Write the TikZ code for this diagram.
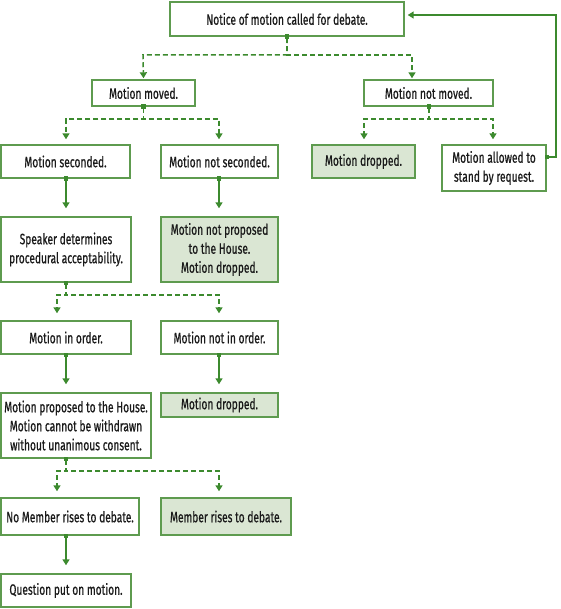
\documentclass[tikz,border=0pt]{standalone}
\usepackage{fontspec}
\setmainfont{Fira Sans}[FakeStretch=0.68,FakeBold=0.6]
\usetikzlibrary{arrows.meta,calc}
\definecolor{bord}{HTML}{5E9B4F}
\definecolor{lin}{HTML}{3C8A2E}
\definecolor{fil}{HTML}{DAE6D3}
\definecolor{txt}{HTML}{1A1A1A}
\tikzset{
  box/.style={draw=bord,line width=1.4pt,fill=white,text=txt,align=center,inner sep=0pt,
    font=\fontsize{15}{19}\selectfont},
  boxf/.style={box,fill=fil},
  conn/.style={draw=lin,line width=1.5pt,
    {Square[length=4.5pt,width=4.5pt]}-{Triangle[length=6pt,width=7pt]},
    shorten <=-2.2pt},
  fork/.style={conn,dash pattern=on 5pt off 3pt},
}
\begin{document}
\begin{tikzpicture}[x=1pt,y=-1pt]
\useasboundingbox (0,0) rectangle (560,609);
\node[box,minimum width=234,minimum height=34] (notice) at (287,19) {Notice of motion called for debate.};
\node[box,minimum width=103,minimum height=26] (moved) at (143.5,93) {Motion moved.};
\node[box,minimum width=129,minimum height=26] (notmoved) at (428.5,93) {Motion not moved.};
\node[box,minimum width=129,minimum height=33] (seconded) at (65.5,161.5) {Motion seconded.};
\node[box,minimum width=117,minimum height=33] (notseconded) at (219.5,161.5) {Motion not seconded.};
\node[boxf,minimum width=103,minimum height=33] (dropA) at (363.5,161.5) {Motion dropped.};
\node[box,minimum width=104,minimum height=46] (allowed) at (494,168) {Motion allowed to\\stand by request.};
\node[box,minimum width=130,minimum height=65] (speaker) at (66,249.5) {Speaker determines\\procedural acceptability.};
\node[boxf,minimum width=117,minimum height=65] (notproposed) at (219.5,249.5) {Motion not proposed\\to the House.\\Motion dropped.};
\node[box,minimum width=130,minimum height=33] (inorder) at (66,337.5) {Motion in order.};
\node[box,minimum width=117,minimum height=33] (notinorder) at (219.5,337.5) {Motion not in order.};
\node[box,minimum width=150,minimum height=65] (proposed) at (76,425.5) {Motion proposed to the House.\\Motion cannot be withdrawn\\without unanimous consent.};
\node[boxf,minimum width=117,minimum height=24] (dropB) at (219.5,405) {Motion dropped.};
\node[box,minimum width=138,minimum height=37] (nomember) at (70,516.5) {No Member rises to debate.};
\node[boxf,minimum width=130,minimum height=37] (member) at (226,516.5) {Member rises to debate.};
\node[box,minimum width=130,minimum height=33] (question) at (66,590.5) {Question put on motion.};
% forks
\draw[fork,shorten >=1pt] (notice.south) |- (143,55) -- (moved.north);
\draw[fork,shorten >=1pt] (notice.south) |- (412,55) -- ([xshift=-16.5pt]notmoved.north);
\draw[fork,shorten >=5pt] (moved.south) |- (66,119) -- (seconded.north -| 66,0);
\draw[fork,shorten >=5pt] (moved.south) |- (219,119) -- (notseconded.north -| 219,0);
\draw[fork,shorten >=5pt] (notmoved.south -| 429,0) |- (364,119) -- (dropA.north -| 364,0);
\draw[fork,shorten >=5pt] (notmoved.south -| 429,0) |- (493,119) -- (allowed.north -| 493,0);
\draw[fork,shorten >=7pt] (speaker.south) |- (57,295) -- (inorder.north -| 57,0);
\draw[fork,shorten >=7pt] (speaker.south) |- (219,295) -- (notinorder.north -| 219,0);
\draw[fork,shorten >=6pt] (proposed.south -| 66,0) |- (57,471) -- (nomember.north -| 57,0);
\draw[fork,shorten >=6pt] (proposed.south -| 66,0) |- (219,471) -- (member.north -| 219,0);
% solid
\draw[conn,shorten >=8pt] (seconded.south -| 66,0) -- (speaker.north);
\draw[conn,shorten >=8pt] (notseconded.south -| 219,0) -- (notproposed.north -| 219,0);
\draw[conn,shorten >=8pt] (inorder.south) -- (proposed.north -| 66,0);
\draw[conn,shorten >=8pt] (notinorder.south -| 219,0) -- (dropB.north -| 219,0);
\draw[conn,shorten >=8pt] (nomember.south -| 66,0) -- (question.north);
% return
\draw[conn,shorten >=3pt] (allowed.east |- 0,157) -| (556,15) -- (notice.east |- 0,15);
\end{tikzpicture}
\end{document}
